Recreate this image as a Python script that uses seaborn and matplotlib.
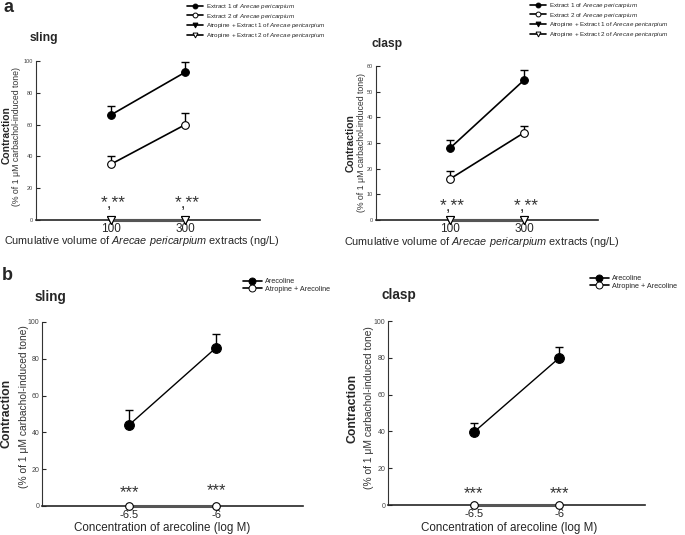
import numpy as np
import pandas as pd
import matplotlib
matplotlib.use('Agg')
import matplotlib.pyplot as plt
from matplotlib.lines import Line2D
import seaborn as sns

# panel a: cumulative volume of Arecae pericarpium extracts
extract_doses = ['100', '300']
sling_extract1 = [66, 93]
sling_extract1_sem = [6, 6.5]
sling_extract2 = [35, 60]
sling_extract2_sem = [5.5, 7]
sling_atropine1 = [0, 0]
sling_atropine2 = [0, 0]
clasp_extract1 = [28, 54.5]
clasp_extract1_sem = [3, 4]
clasp_extract2 = [16, 34]
clasp_extract2_sem = [3, 2.5]
clasp_atropine1 = [0, 0]
clasp_atropine2 = [0, 0]

# panel b: arecoline
arecoline_conc = ['-6.5', '-6']
sling_arecoline = [44, 86]
sling_arecoline_sem = [8, 7.5]
sling_atropine_arec = [0, 0]
clasp_arecoline = [39.5, 80]
clasp_arecoline_sem = [5, 6]
clasp_atropine_arec = [0, 0]

sig_a = ['*,**', '*,**']
sig_b = ['***', '***']

lab_e1 = r'Extract 1 of $\it{Arecae\ pericarpium}$'
lab_e2 = r'Extract 2 of $\it{Arecae\ pericarpium}$'
lab_a1 = r'Atropine + Extract 1 of $\it{Arecae\ pericarpium}$'
lab_a2 = r'Atropine + Extract 2 of $\it{Arecae\ pericarpium}$'
lab_ar = 'Arecoline'
lab_aa = 'Atropine + Arecoline'

sns.set_style('ticks')
plt.rcParams['font.family'] = ['Liberation Sans', 'DejaVu Sans']
plt.rcParams['mathtext.fontset'] = 'custom'
plt.rcParams['mathtext.rm'] = 'Liberation Sans'
plt.rcParams['mathtext.it'] = 'Liberation Sans:italic'
plt.rcParams['mathtext.bf'] = 'Liberation Sans:bold'

W, H = 685, 535
fig = plt.figure(figsize=(W / 100, H / 100), dpi=100)


def px(x, y):
    return x / W, 1 - y / H


def add_ax(left, top, right, bottom):
    return fig.add_axes([left / W, 1 - bottom / H, (right - left) / W, (bottom - top) / H])


# style per series: marker, face colour, line colour, line width, marker size
STYLE = {
    lab_e1: ('o', 'black', 'black', 1.2, 5.5),
    lab_e2: ('o', 'white', 'black', 1.2, 5.5),
    lab_a1: ('v', 'black', '#555555', 2.2, 5.5),
    lab_a2: ('v', 'white', '#555555', 2.2, 5.5),
    lab_ar: ('o', 'black', 'black', 1.0, 7),
    lab_aa: ('o', 'white', '#555555', 2.2, 5.5),
}


def draw(ax, xlabels, series, ymax, ystep, ytick_fs, xtick_fs, xpad):
    for name, vals, sem in series:
        df = pd.DataFrame({'pos': np.arange(len(xlabels)), 'val': vals})
        m, fc, lc, lw, ms = STYLE[name]
        if sem is not None:
            ax.errorbar(df['pos'], df['val'], yerr=[np.zeros(len(sem)), sem],
                        fmt='none', ecolor='black', elinewidth=1, capsize=3,
                        capthick=1, zorder=2)
        sns.lineplot(data=df, x='pos', y='val', ax=ax, color=lc, linewidth=lw,
                     marker=m, markersize=ms, markerfacecolor=fc,
                     markeredgecolor='black', markeredgewidth=0.8,
                     clip_on=False, zorder=3)
    ax.set_xlim(-1, 2)
    ax.set_ylim(0, ymax)
    ax.set_xticks(range(len(xlabels)))
    ax.set_xticklabels(xlabels, fontsize=xtick_fs)
    ax.set_yticks(np.arange(0, ymax + 1, ystep))
    ax.tick_params(axis='y', direction='in', length=3, width=0.8,
                   labelsize=ytick_fs, labelcolor='#444444', pad=2)
    ax.tick_params(axis='x', length=0, pad=xpad)
    ax.set_xlabel('')
    ax.set_ylabel('')
    for s in ['top', 'right']:
        ax.spines[s].set_visible(False)
    ax.spines['left'].set_color('#333333')
    ax.spines['bottom'].set_linewidth(1.2)


def legend(ax, names, x, y, fs, ms):
    handles = []
    for name in names:
        m, fc, lc, lw, _ = STYLE[name]
        handles.append(Line2D([], [], color='black', lw=1.2, marker=m, markersize=ms,
                              markerfacecolor=fc, markeredgecolor='black',
                              markeredgewidth=0.7))
    ax.legend(handles, names, loc='upper left', bbox_to_anchor=px(x, y),
              bbox_transform=fig.transFigure, frameon=False, fontsize=fs,
              handlelength=2.6, handletextpad=0.5, labelspacing=0.1,
              borderpad=0, borderaxespad=0)


# ---- panel a sling
ax1 = add_ax(36, 61, 260, 220)
draw(ax1, extract_doses,
     [(lab_e1, sling_extract1, sling_extract1_sem),
      (lab_e2, sling_extract2, sling_extract2_sem),
      (lab_a1, sling_atropine1, None),
      (lab_a2, sling_atropine2, None)], 100, 20, 4, 8.5, 2.5)
for i, s in enumerate(sig_a):
    ax1.text(i + 0.03, 7.5, s, ha='center', va='baseline', fontsize=12.5, color='#333333')
legend(ax1, [lab_e1, lab_e2, lab_a1, lab_a2], 187, 2, 4.5, 3.5)

# ---- panel a clasp
ax2 = add_ax(376, 66, 598, 220)
draw(ax2, extract_doses,
     [(lab_e1, clasp_extract1, clasp_extract1_sem),
      (lab_e2, clasp_extract2, clasp_extract2_sem),
      (lab_a1, clasp_atropine1, None),
      (lab_a2, clasp_atropine2, None)], 60, 10, 4, 8.5, 2.5)
for i, s in enumerate(sig_a):
    ax2.text(i + 0.03, 3.5, s, ha='center', va='baseline', fontsize=12.5, color='#333333')
legend(ax2, [lab_e1, lab_e2, lab_a1, lab_a2], 530, 1, 4.5, 3.5)

# ---- panel b sling
ax3 = add_ax(42, 322, 303, 506)
draw(ax3, arecoline_conc,
     [(lab_ar, sling_arecoline, sling_arecoline_sem),
      (lab_aa, sling_atropine_arec, None)], 100, 20, 5, 8, 3)
ax3.text(0, 5, sig_b[0], ha='center', va='baseline', fontsize=12, color='#333333')
ax3.text(1, 6, sig_b[1], ha='center', va='baseline', fontsize=12, color='#333333')
legend(ax3, [lab_ar, lab_aa], 243, 278, 5.2, 5)

# ---- panel b clasp
ax4 = add_ax(388, 321, 645, 505)
draw(ax4, arecoline_conc,
     [(lab_ar, clasp_arecoline, clasp_arecoline_sem),
      (lab_aa, clasp_atropine_arec, None)], 100, 20, 5, 8, 3)
for i, s in enumerate(sig_b):
    ax4.text(i, 4, s, ha='center', va='baseline', fontsize=12, color='#333333')
legend(ax4, [lab_ar, lab_aa], 590, 275, 5.2, 5)

# ---- titles, axis labels, panel letters
fig.text(*px(3, 8), 'a', fontsize=13, fontweight='bold', va='center', ha='left')
fig.text(*px(2, 276), 'b', fontsize=13, fontweight='bold', va='center', ha='left')
fig.text(*px(30, 38), 'sling', fontsize=8.7, fontweight='bold', va='center', ha='left')
fig.text(*px(372, 44), 'clasp', fontsize=8.7, fontweight='bold', va='center', ha='left')
fig.text(*px(35, 297), 'sling', fontsize=9.8, fontweight='bold', va='center', ha='left')
fig.text(*px(382, 295), 'clasp', fontsize=9.8, fontweight='bold', va='center', ha='left')

xl_a = r'Cumulative volume of $\it{Arecae\ pericarpium}$ extracts (ng/L)'
fig.text(*px(142, 241), xl_a, fontsize=7.8, ha='center', va='center')
fig.text(*px(482, 242), xl_a, fontsize=7.8, ha='center', va='center')
xl_b = 'Concentration of arecoline (log M)'
fig.text(*px(162, 528), xl_b, fontsize=8.4, ha='center', va='center')
fig.text(*px(509, 528), xl_b, fontsize=8.4, ha='center', va='center')

yl2 = '(% of 1 \u03bcM carbachol-induced tone)'
for (x1, y1, x2, y2, f1, f2) in [(7, 135, 17, 137, 7.4, 6.3),
                                 (351, 143, 362, 143, 7.4, 6.3),
                                 (7, 413, 24, 407, 8.8, 7.4),
                                 (353, 408, 369, 408, 8.8, 7.4)]:
    fig.text(*px(x1, y1), 'Contraction', fontsize=f1, fontweight='bold',
             rotation=90, ha='center', va='center')
    fig.text(*px(x2, y2), yl2, fontsize=f2, rotation=90, ha='center', va='center',
             color='#333333')

fig.savefig('out.png', dpi=100)
